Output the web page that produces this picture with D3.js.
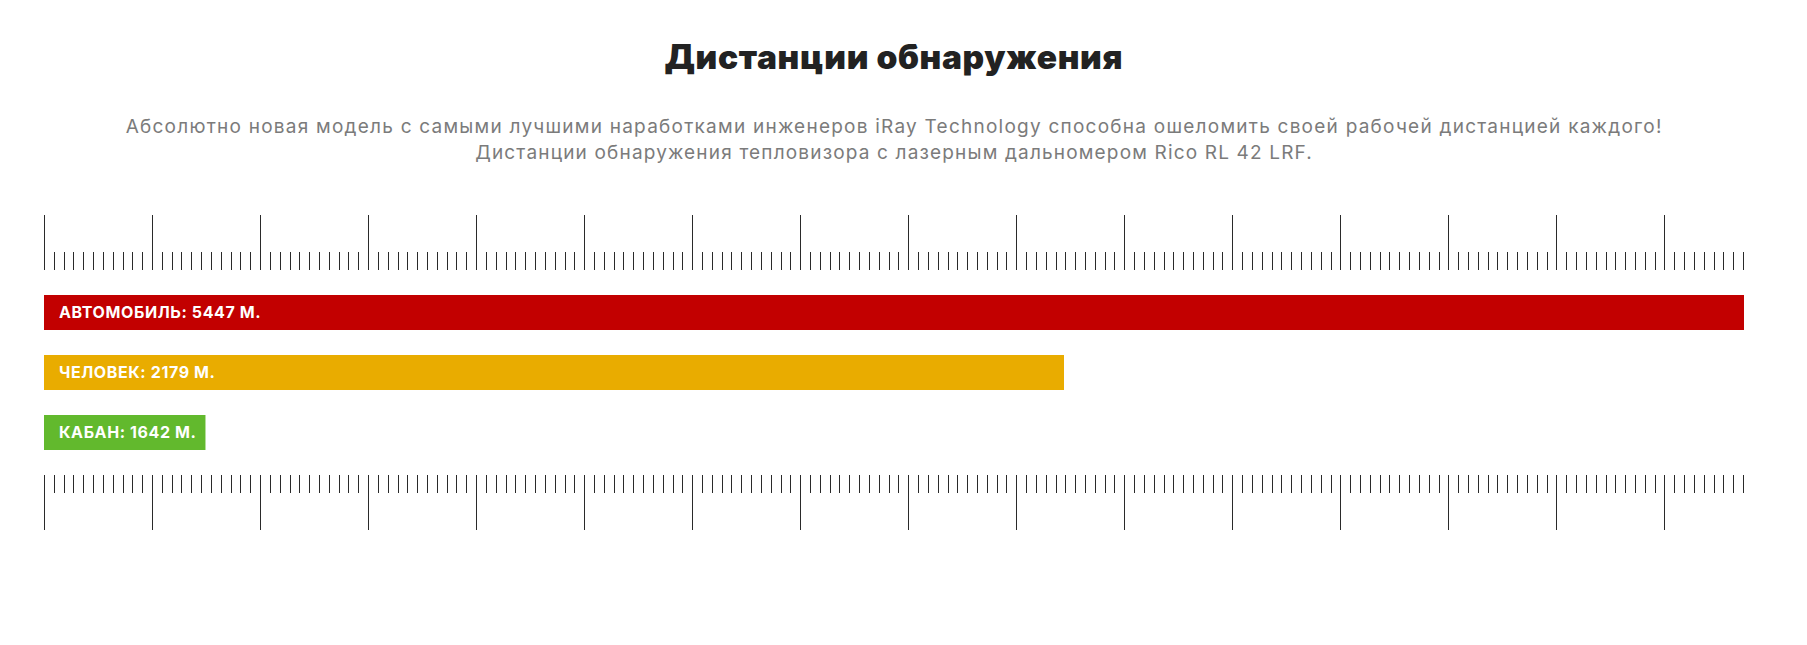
<!DOCTYPE html>
<html>
<head>
<meta charset="utf-8">
<script src="https://cdn.jsdelivr.net/npm/d3@7"></script>
<style>
  html, body { margin: 0; padding: 0; background: #fff; }
  svg { display: block; }
</style>
</head>
<body>
<svg id="chart" width="1807" height="645"></svg>
<script>
// ---- data ----
const titleText = "Дистанции обнаружения";
const subtitleLines = [
  "Абсолютно новая модель с самыми лучшими наработками инженеров iRay Technology способна ошеломить своей рабочей дистанцией каждого!",
  "Дистанции обнаружения тепловизора с лазерным дальномером Rico RL 42 LRF."
];
const categories = ["АВТОМОБИЛЬ", "ЧЕЛОВЕК", "КАБАН"];
const distances = [5447, 2179, 1642];
const unit = "М.";
const barColors = ["#c20000", "#e9ac00", "#62b92d"];
// ruler: 173 minor divisions, every 11th is a major mark
const rulerDivisions = d3.range(0, 174);
const majorEvery = 11;

// ---- layout ----
const W = 1807, H = 645;
const left = 44, right = 1744;
const svg = d3.select("#chart");
svg.append("rect").attr("width", W).attr("height", H).attr("fill", "#fff");

const cx = 893.5;

function fitWidth(sel, target) {
  const w = sel.node().getComputedTextLength();
  if (w > 0) sel.attr("textLength", target).attr("lengthAdjust", "spacing");
}

// title
const title = svg.append("text")
  .attr("x", cx).attr("y", 69.3)
  .attr("text-anchor", "middle")
  .attr("font-family", "Inter, Roboto, 'Noto Sans', sans-serif")
  .attr("font-weight", 900)
  .attr("font-size", 33.5)
  .attr("fill", "#222")
  .text(titleText);
fitWidth(title, 458);

// subtitle
const subWidths = [1535.7, 836.6];
subtitleLines.forEach((line, i) => {
  const t = svg.append("text")
    .attr("x", cx).attr("y", 133.3 + i * 25.5)
    .attr("text-anchor", "middle")
    .attr("font-family", "Inter, 'Open Sans', 'Noto Sans', sans-serif")
    .attr("font-weight", 400)
    .attr("font-size", 19)
    .attr("fill", "#7b7b7b")
    .text(line);
  fitWidth(t, subWidths[i]);
});

// ---- ruler scales ----
const rx = d3.scaleLinear().domain([0, d3.max(rulerDivisions)]).rangeRound([left, right - 1]);
const majors = rulerDivisions.filter(d => d % majorEvery === 0);
const minors = rulerDivisions.filter(d => d % majorEvery !== 0);

function drawRuler(y, axisFn) {
  const g = svg.append("g").attr("transform", `translate(0,${y})`);
  const gMaj = g.append("g").call(axisFn(rx).tickValues(majors).tickSize(55).tickFormat(""));
  const gMin = g.append("g").call(axisFn(rx).tickValues(minors).tickSize(18).tickFormat(""));
  [gMaj, gMin].forEach(a => {
    a.select(".domain").remove();
    a.selectAll("line").attr("stroke", "#2a2a2a").attr("stroke-width", 1);
  });
}
drawRuler(270, d3.axisTop);
drawRuler(475, d3.axisBottom);

// ---- bars ----
const y = d3.scaleBand().domain(categories).range([295, 450]).paddingInner(25 / 60).paddingOuter(0);
// bar lengths in the source are not proportional; piecewise scale reproduces them
const x = d3.scaleLinear()
  .domain([0, 1642, 2179, 5447])
  .range([0, 0.0947, 0.6, 1].map(f => f * (right - left)));

const rows = categories.map((c, i) => ({ cat: c, val: distances[i], color: barColors[i] }));

const g = svg.append("g");
const row = g.selectAll("g.row").data(rows).join("g").attr("class", "row");

row.append("rect")
  .attr("x", left)
  .attr("y", d => y(d.cat))
  .attr("height", y.bandwidth())
  .attr("fill", d => d.color)
  .attr("width", d => x(d.val));

row.append("text")
  .attr("x", left + 15)
  .attr("y", d => y(d.cat) + y.bandwidth() / 2)
  .attr("dy", "0.36em")
  .attr("font-family", "Inter, Roboto, 'Noto Sans', sans-serif")
  .attr("font-weight", 700)
  .attr("font-size", 16)
  .attr("letter-spacing", 0.6)
  .attr("fill", "#fff")
  .text(d => `${d.cat}: ${d.val} ${unit}`);

// ensure bar fits its label
row.each(function (d) {
  const r = d3.select(this);
  const tw = r.select("text").node().getComputedTextLength();
  r.select("rect").attr("width", Math.max(x(d.val), tw + 24));
});
</script>
</body>
</html>
